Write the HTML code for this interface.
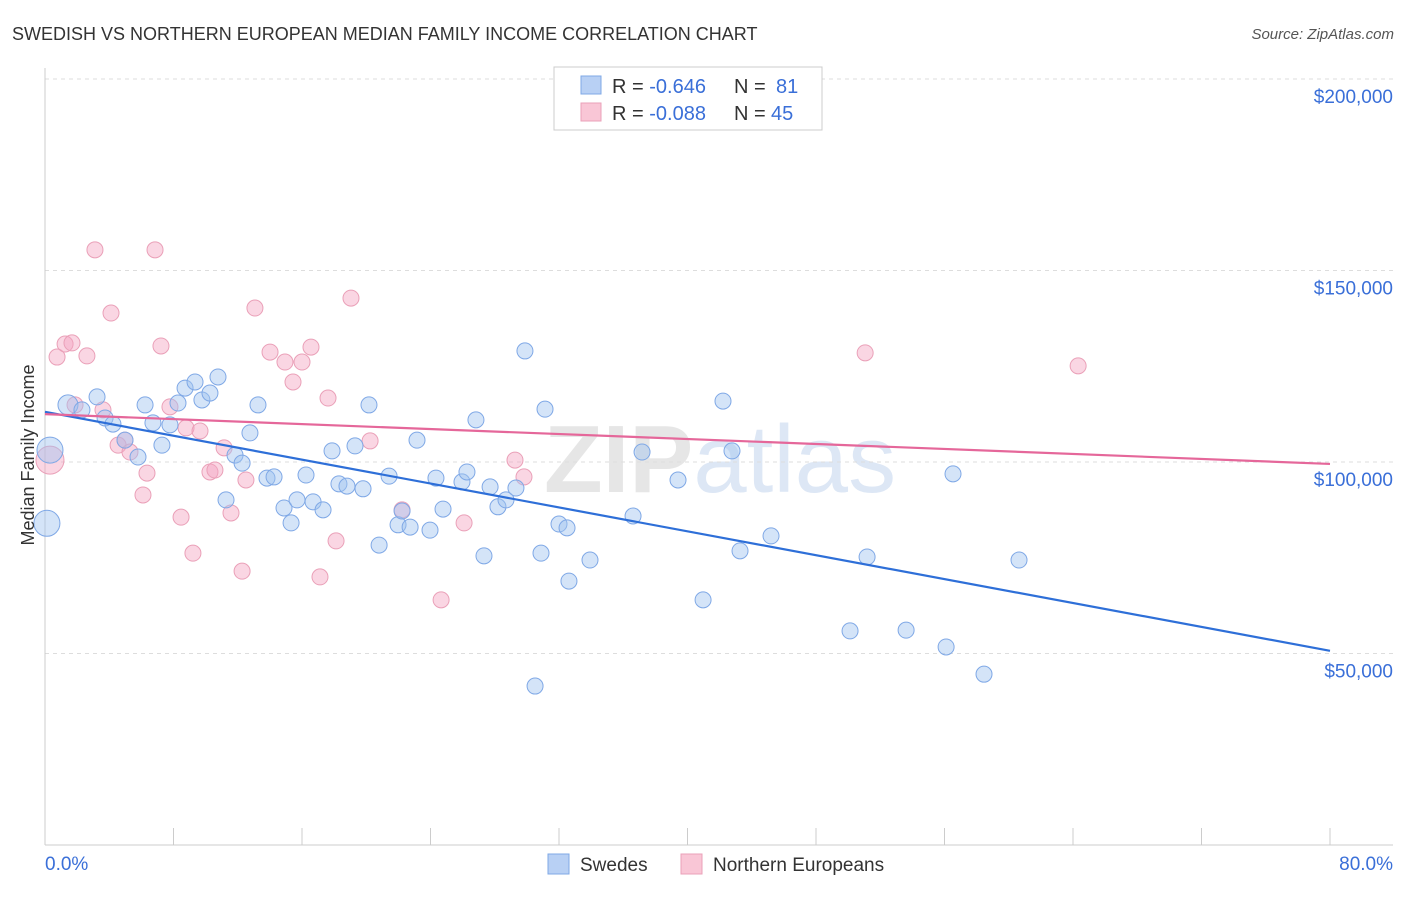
<!DOCTYPE html>
<html><head><meta charset="utf-8"><style>
body{margin:0;background:#fff;font-family:"Liberation Sans",sans-serif;}
svg text{font-family:"Liberation Sans",sans-serif;}
</style></head><body>
<svg id="chart" width="1406" height="892">
<text x="12" y="40" font-size="18" fill="#333">SWEDISH VS NORTHERN EUROPEAN MEDIAN FAMILY INCOME CORRELATION CHART</text>
<text x="1394" y="39" font-size="15" fill="#555" font-style="italic" text-anchor="end">Source: ZipAtlas.com</text>
<text x="720" y="492" font-size="96" fill="#e4e4e8" text-anchor="middle" font-family="Liberation Serif"><tspan font-weight="bold" fill="#e6e6e6">ZIP</tspan><tspan fill="#dde7f5" font-family="Liberation Sans">atlas</tspan></text>
<g id="grid"></g>
<g id="axes"></g>
<g id="marks"></g>
<text transform="translate(34,455) rotate(-90)" font-size="18" fill="#333" text-anchor="middle">Median Family Income</text>
<g>
<rect x="554" y="67" width="268" height="63" fill="#fff" stroke="#ccc"/>
<rect x="581" y="76" width="20" height="18" fill="#b8d0f4" stroke="#7fa8e6"/>
<rect x="581" y="103" width="20" height="18" fill="#f9c6d6" stroke="#eaa0b8"/>
<text x="612" y="93" font-size="20" fill="#333">R = <tspan fill="#3a6fd8">-0.646</tspan><tspan x="734">N = </tspan><tspan x="776" fill="#3a6fd8">81</tspan></text>
<text x="612" y="120" font-size="20" fill="#333">R = <tspan fill="#3a6fd8">-0.088</tspan><tspan x="734">N = </tspan><tspan x="771" fill="#3a6fd8">45</tspan></text>
</g>
<g>
<rect x="548" y="854" width="21" height="20" fill="#b8d0f4" stroke="#7fa8e6"/>
<text x="580" y="871" font-size="19" fill="#333">Swedes</text>
<rect x="681" y="854" width="21" height="20" fill="#f9c6d6" stroke="#eaa0b8"/>
<text x="713" y="871" font-size="19" fill="#333">Northern Europeans</text>
</g>
</svg>
<script>
const yTicks=[50,100,150,200];
const yTickLabels=["$50,000","$100,000","$150,000","$200,000"];
const xTickVals=[0,8,16,24,32,40,48,56,64,72,80];
const xEndLabels=["0.0%","80.0%"];
const blueX=[0.31,0.12,1.43,2.30,3.24,3.74,4.23,4.98,5.79,6.23,6.72,7.28,7.78,8.28,8.72,9.34,9.77,10.27,10.77,11.27,11.83,12.27,12.76,13.26,13.82,14.26,14.88,15.32,15.69,16.25,16.69,17.31,17.87,18.30,18.80,19.30,19.80,20.17,20.80,21.42,21.98,22.23,22.73,23.16,23.97,24.34,24.78,25.96,26.27,26.83,27.33,27.71,28.20,28.70,29.32,29.88,30.51,30.88,31.13,32.00,32.50,32.62,33.93,36.61,37.17,39.41,40.97,42.21,42.77,43.27,45.20,50.12,51.18,53.61,56.10,56.53,58.46,60.64];
const blueY=[103.1,84.0,114.9,113.6,117.0,111.5,109.9,105.7,101.3,114.9,110.2,104.4,109.7,115.4,119.3,120.9,116.2,118.0,122.2,90.1,101.8,99.7,107.6,114.9,95.8,96.1,88.0,84.1,90.1,96.6,89.6,87.5,102.9,94.3,93.7,104.2,93.0,114.9,78.3,96.3,83.6,87.2,83.0,105.7,82.2,95.8,87.7,94.8,97.4,111.0,75.5,93.5,88.3,90.1,93.2,129.0,41.5,76.2,113.8,83.8,82.8,68.9,74.4,85.9,102.6,95.3,64.0,115.9,102.9,76.8,80.7,55.9,75.2,56.1,51.7,96.9,44.6,74.4];
const pinkX=[0.31,0.75,1.25,1.68,2.61,1.87,3.11,3.61,4.11,4.55,4.98,5.29,6.10,6.35,6.85,7.22,7.78,8.47,8.78,9.21,9.65,10.27,10.58,11.15,11.58,12.27,12.51,13.07,14.01,14.94,15.44,16.00,16.56,17.12,17.62,18.12,19.05,20.24,22.23,24.66,26.09,29.26,29.82,51.06,64.32];
const pinkY=[100.5,127.4,130.8,131.1,127.7,114.9,155.4,113.6,138.9,104.4,105.7,102.6,91.4,97.1,155.4,130.3,114.4,85.6,108.9,76.2,108.1,97.4,97.9,103.7,86.7,71.5,95.3,140.2,128.7,126.1,120.9,126.1,130.0,70.0,116.7,79.4,142.8,105.5,87.5,64.0,84.1,100.5,96.1,128.5,125.1];
const blueTrend=[113.1,50.7];
const pinkTrend=[112.5,99.5];
const NS="http://www.w3.org/2000/svg";
const X=v=>45+v*(1330-45)/80;
const Y=v=>462-(v-100)*191.5/50;
function mk(tag,attrs,parent){const e=document.createElementNS(NS,tag);for(const k in attrs)e.setAttribute(k,attrs[k]);document.getElementById(parent).appendChild(e);return e;}
yTicks.forEach((t,i)=>{
 const g=mk('line',{x1:45,x2:1393,y1:Y(t),y2:Y(t),stroke:'#ddd','stroke-dasharray':'4,4'},'grid');
 
 
 const tx=mk('text',{x:1393,y:Y(t)+24,'text-anchor':'end','font-size':19,fill:'#3a6fd8'},'axes');
 tx.textContent=yTickLabels[i];
 
 
});
const topGrid=mk('line',{x1:45,x2:1393,y1:79,y2:79,stroke:'#ddd','stroke-dasharray':'4,4'},'grid');


const ya=mk('line',{x1:45,x2:45,y1:68,y2:845,stroke:'#ccc'},'axes');


const xa=mk('line',{x1:45,x2:1393,y1:845,y2:845,stroke:'#ccc'},'axes');


xTickVals.forEach(t=>{
 const l=mk('line',{x1:X(t),x2:X(t),y1:828,y2:845,stroke:'#ccc'},'axes');
 
 
});
const xl0=mk('text',{x:45,y:870,'font-size':19,fill:'#3a6fd8'},'axes');
xl0.textContent=xEndLabels[0];


const xl1=mk('text',{x:1393,y:870,'font-size':19,fill:'#3a6fd8','text-anchor':'end'},'axes');
xl1.textContent=xEndLabels[1];


pinkX.forEach((x,i)=>{
 const c=mk('circle',{cx:X(x),cy:Y(pinkY[i]),r:i===0?14:8,fill:'rgba(245,165,192,0.45)',stroke:'#eaa0b8','stroke-width':1},'marks');
 
 
});
blueX.forEach((x,i)=>{
 const c=mk('circle',{cx:X(x),cy:Y(blueY[i]),r:(i<3)?(i===2?10:13):8,fill:'rgba(160,196,240,0.45)',stroke:'#7fa8e6','stroke-width':1},'marks');
 
 
});
const bt=mk('line',{x1:X(0),y1:Y(blueTrend[0]),x2:X(80),y2:Y(blueTrend[1]),stroke:'#2e6fd8','stroke-width':2.2},'marks');


const pt=mk('line',{x1:X(0),y1:Y(pinkTrend[0]),x2:X(80),y2:Y(pinkTrend[1]),stroke:'#e5679a','stroke-width':2.2},'marks');


</script>
</body></html>
